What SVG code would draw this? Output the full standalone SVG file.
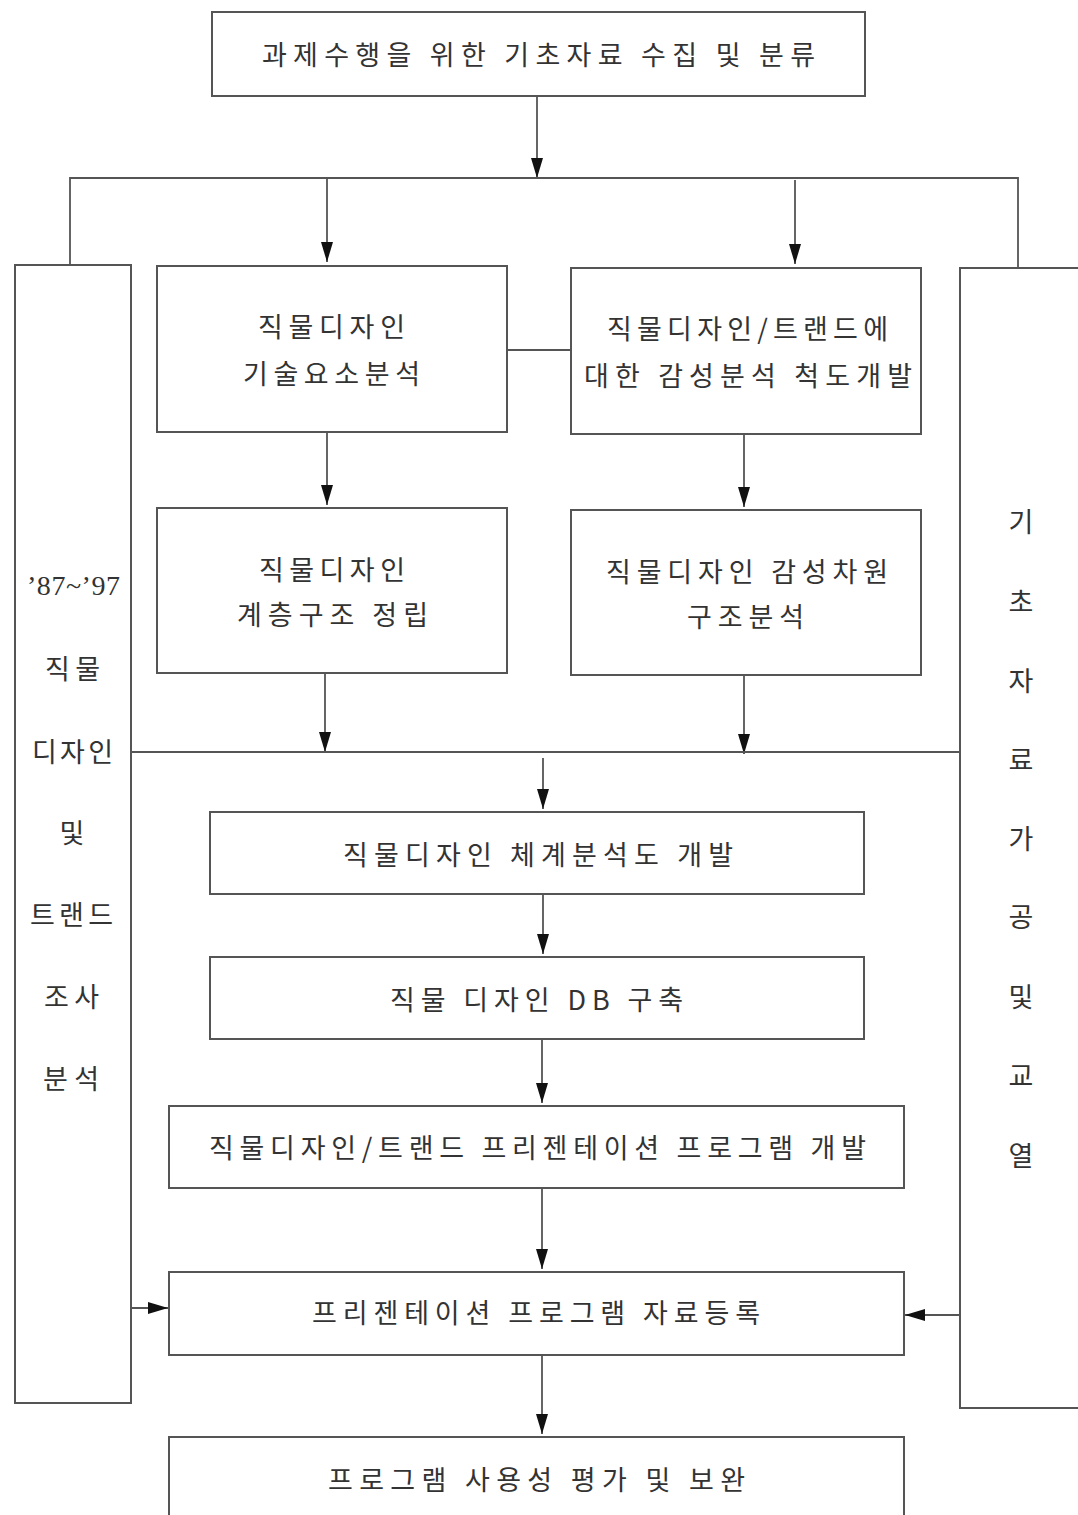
<svg xmlns="http://www.w3.org/2000/svg" width="1078" height="1515" viewBox="0 0 1078 1515">
<style>
.box{fill:#fff;stroke:#555;stroke-width:2}
.ln{fill:none;stroke:#555;stroke-width:1.8}
.t{font-family:"Noto Sans CJK KR","Noto Sans",sans-serif;font-size:27px;fill:#333;dominant-baseline:central}
.n{font-family:"Liberation Serif","Noto Sans CJK KR",serif;font-size:28px;fill:#333;dominant-baseline:central}
</style>
<defs>
<marker id="ah" markerUnits="userSpaceOnUse" markerWidth="20" markerHeight="12" refX="20" refY="6" viewBox="0 0 20 12" orient="auto">
<path d="M0,0 L20,6 L0,12 Z" fill="#111"/>
</marker>
</defs>
<rect width="1078" height="1515" fill="#fff"/>
<g id="connectors">
<path class="ln" d="M537,96 V178" marker-end="url(#ah)"/>
<path class="ln" d="M70,265 V178 H1018 V268"/>
<path class="ln" d="M327,178 V262" marker-end="url(#ah)"/>
<path class="ln" d="M795,180 V264" marker-end="url(#ah)"/>
<path class="ln" d="M507,350 H571"/>
<path class="ln" d="M327,432 V505" marker-end="url(#ah)"/>
<path class="ln" d="M744,434 V507" marker-end="url(#ah)"/>
<path class="ln" d="M325,673 V752" marker-end="url(#ah)"/>
<path class="ln" d="M744,675 V754" marker-end="url(#ah)"/>
<path class="ln" d="M131,752 H960"/>
<path class="ln" d="M543,758 V809" marker-end="url(#ah)"/>
<path class="ln" d="M543,894 V954" marker-end="url(#ah)"/>
<path class="ln" d="M542,1039 V1103" marker-end="url(#ah)"/>
<path class="ln" d="M542,1188 V1269" marker-end="url(#ah)"/>
<path class="ln" d="M542,1355 V1434" marker-end="url(#ah)"/>
<path class="ln" d="M131,1308 H168" marker-end="url(#ah)"/>
<path class="ln" d="M960,1315 H905" marker-end="url(#ah)"/>
</g>
<g id="n-top">
<rect class="box" x="212" y="12" width="653" height="84"/>
<text class="t" x="262" y="53" textLength="553" lengthAdjust="spacing">과제수행을 위한 기초자료 수집 및 분류</text>
</g>
<g id="n-left">
<rect class="box" x="15" y="265" width="116" height="1138"/>
<text class="n" x="27" y="585" textLength="93" lengthAdjust="spacing">’87~’97</text>
<text class="t" x="45" y="667" textLength="55" lengthAdjust="spacing">직물</text>
<text class="t" x="32" y="750" textLength="81" lengthAdjust="spacing">디자인</text>
<text class="t" x="72" y="831" text-anchor="middle">및</text>
<text class="t" x="30" y="913" textLength="83" lengthAdjust="spacing">트랜드</text>
<text class="t" x="44" y="995" textLength="55" lengthAdjust="spacing">조사</text>
<text class="t" x="43" y="1077" textLength="56" lengthAdjust="spacing">분석</text>
</g>
<g id="n-right">
<rect class="box" x="960" y="268" width="130" height="1140"/>
<text class="t" x="1021" y="520" text-anchor="middle">기</text>
<text class="t" x="1021" y="600" text-anchor="middle">초</text>
<text class="t" x="1021" y="679" text-anchor="middle">자</text>
<text class="t" x="1021" y="758" text-anchor="middle">료</text>
<text class="t" x="1021" y="837" text-anchor="middle">가</text>
<text class="t" x="1021" y="915" text-anchor="middle">공</text>
<text class="t" x="1021" y="995" text-anchor="middle">및</text>
<text class="t" x="1021" y="1074" text-anchor="middle">교</text>
<text class="t" x="1021" y="1154" text-anchor="middle">열</text>
</g>
<g id="n-a">
<rect class="box" x="157" y="266" width="350" height="166"/>
<text class="t" x="258" y="325" textLength="147" lengthAdjust="spacing">직물디자인</text>
<text class="t" x="243" y="372" textLength="177" lengthAdjust="spacing">기술요소분석</text>
</g>
<g id="n-b">
<rect class="box" x="571" y="268" width="350" height="166"/>
<text class="t" x="607" y="327" textLength="281" lengthAdjust="spacing">직물디자인/트랜드에</text>
<text class="t" x="584" y="374" textLength="328" lengthAdjust="spacing">대한 감성분석 척도개발</text>
</g>
<g id="n-c">
<rect class="box" x="157" y="508" width="350" height="165"/>
<text class="t" x="259" y="568" textLength="146" lengthAdjust="spacing">직물디자인</text>
<text class="t" x="237" y="613" textLength="191" lengthAdjust="spacing">계층구조 정립</text>
</g>
<g id="n-d">
<rect class="box" x="571" y="510" width="350" height="165"/>
<text class="t" x="606" y="570" textLength="282" lengthAdjust="spacing">직물디자인 감성차원</text>
<text class="t" x="687" y="615" textLength="117" lengthAdjust="spacing">구조분석</text>
</g>
<g id="n-e">
<rect class="box" x="210" y="812" width="654" height="82"/>
<text class="t" x="343" y="853" textLength="390" lengthAdjust="spacing">직물디자인 체계분석도 개발</text>
</g>
<g id="n-f">
<rect class="box" x="210" y="957" width="654" height="82"/>
<text class="t" x="390" y="998" textLength="293" lengthAdjust="spacing">직물 디자인 DB 구축</text>
</g>
<g id="n-g">
<rect class="box" x="169" y="1106" width="735" height="82"/>
<text class="t" x="209" y="1146" textLength="657" lengthAdjust="spacing">직물디자인/트랜드 프리젠테이션 프로그램 개발</text>
</g>
<g id="n-h">
<rect class="box" x="169" y="1272" width="735" height="83"/>
<text class="t" x="312" y="1311" textLength="448" lengthAdjust="spacing">프리젠테이션 프로그램 자료등록</text>
</g>
<g id="n-i">
<rect class="box" x="169" y="1437" width="735" height="100"/>
<text class="t" x="328" y="1478" textLength="417" lengthAdjust="spacing">프로그램 사용성 평가 및 보완</text>
</g>
</svg>
